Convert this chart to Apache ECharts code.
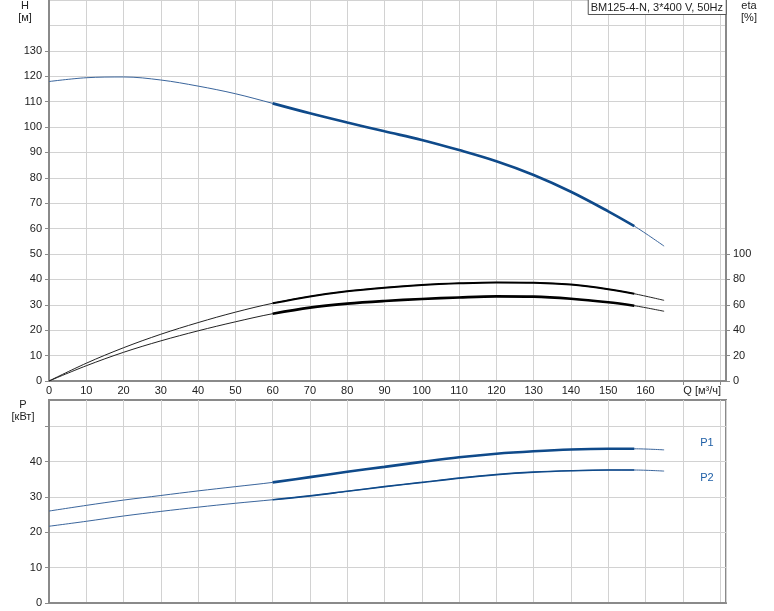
<!DOCTYPE html>
<html>
<head>
<meta charset="utf-8">
<script src="https://cdn.jsdelivr.net/npm/echarts@6/dist/echarts.min.js"></script>
<style>
  html, body { margin: 0; padding: 0; background: #fff; }
  #chart { width: 774px; height: 611px; }
</style>
</head>
<body>
<div id="chart"></div>
<script>
// Q [м³/ч]
const q = [0, 10, 20, 30, 40, 50, 60, 70, 80, 90, 100, 110, 120, 130, 140, 150, 157, 165]
// H [м]
const head = [117.9, 119.4, 119.7, 118.5, 116.1, 113.1, 109.3, 105.4, 101.8, 98.3, 94.9, 90.9, 86.5, 81.1, 74.5, 66.8, 61.0, 53.1]
// eta [%]
const etaUpper = [0, 14.0, 26.2, 36.8, 46.0, 54.2, 61.2, 66.6, 70.7, 73.5, 75.6, 76.9, 77.6, 77.4, 75.9, 72.3, 68.7, 63.5]
const etaLower = [0, 12.0, 22.6, 31.6, 39.5, 46.6, 53.0, 57.8, 60.9, 63.0, 64.6, 65.8, 66.6, 66.4, 64.8, 62.0, 59.3, 54.9]
// P [кВт]
const p1 = [26.0, 27.6, 29.1, 30.4, 31.7, 32.9, 34.1, 35.6, 37.1, 38.5, 39.9, 41.2, 42.2, 42.9, 43.4, 43.6, 43.6, 43.3]
const p2 = [21.7, 23.1, 24.6, 25.9, 27.1, 28.2, 29.2, 30.3, 31.6, 32.9, 34.1, 35.3, 36.3, 37.0, 37.4, 37.6, 37.6, 37.3]

// рабочий диапазон (жирная часть кривых)
const bestFrom = 60
const bestTo = 157

// подписи и риски осей
const qLabels = [0, 10, 20, 30, 40, 50, 60, 70, 80, 90, 100, 110, 120, 130, 140, 150, 160]
const qTicks = [170, 180]
const hLabels = [0, 10, 20, 30, 40, 50, 60, 70, 80, 90, 100, 110, 120, 130]
const etaLabels = [0, 20, 40, 60, 80, 100]
const pLabels = [0, 10, 20, 30, 40]
const pTicks = [0, 10, 20, 30, 40, 50]

const font = 'Arial, "Liberation Sans", sans-serif'
const textColor = '#222'
const axisGray = '#8a8a8a'
const gridGray = '#d2d2d2'
const qMax = 181.6

const pairs = (vals, thick) =>
  q.map((x, i) => [x, vals[i]]).filter(p => !thick || (p[0] >= bestFrom && p[0] <= bestTo))

const line = (name, vals, xi, yi, color, width, thick) => ({
  name: name,
  type: 'line',
  xAxisIndex: xi,
  yAxisIndex: yi,
  data: pairs(vals, thick),
  smooth: 0.35,
  showSymbol: false,
  silent: true,
  lineStyle: { color: color, width: width }
})

// оси только для сетки (customValues у рисок сбивает splitLine)
const gridAxis = (gridIndex, max) => ({
  type: 'value',
  gridIndex: gridIndex,
  min: 0,
  max: max,
  interval: 10,
  axisLine: { show: false },
  axisTick: { show: false },
  axisLabel: { show: false },
  splitLine: { show: true, lineStyle: { color: gridGray, width: 1 } }
})

const labelStyle = (values, margin) => ({
  customValues: values, color: textColor, fontSize: 11, fontFamily: font, margin: margin
})

const chart = echarts.init(document.getElementById('chart'))

chart.setOption({
  animation: false,
  backgroundColor: '#fff',
  title: {
    text: 'BM125-4-N, 3*400 V, 50Hz',
    right: 48,
    top: -1,
    padding: [3, 3, 2, 3],
    borderColor: '#555',
    borderWidth: 1,
    backgroundColor: '#fff',
    textStyle: { color: textColor, fontSize: 11, fontWeight: 'normal', fontFamily: font }
  },
  grid: [
    { left: 49, right: 48, top: 0, height: 381, show: true, borderColor: axisGray, borderWidth: 1 },
    { left: 49, right: 48, top: 400, height: 203, show: true, borderColor: axisGray, borderWidth: 2 }
  ],
  xAxis: [
    {
      type: 'value',
      gridIndex: 0,
      min: 0,
      max: qMax,
      interval: 10,
      axisLine: { show: true, onZero: false, lineStyle: { color: axisGray, width: 2 } },
      axisTick: { show: true, length: 4, customValues: qTicks, lineStyle: { color: axisGray } },
      axisLabel: labelStyle(qLabels, 4),
      splitLine: { show: false }
    },
    {
      type: 'value',
      gridIndex: 1,
      min: 0,
      max: qMax,
      interval: 10,
      axisLine: { show: true, onZero: false, lineStyle: { color: axisGray, width: 2 } },
      axisTick: { show: false },
      axisLabel: { show: false },
      splitLine: { show: true, lineStyle: { color: gridGray, width: 1 } }
    },
    gridAxis(0, qMax)
  ],
  yAxis: [
    {
      type: 'value',
      gridIndex: 0,
      min: 0,
      max: 150,
      interval: 10,
      axisLine: { show: true, onZero: false, lineStyle: { color: axisGray, width: 2 } },
      axisTick: { show: true, length: 4, customValues: hLabels, lineStyle: { color: axisGray } },
      axisLabel: labelStyle(hLabels, 7),
      splitLine: { show: false }
    },
    {
      type: 'value',
      gridIndex: 0,
      position: 'right',
      min: 0,
      max: 300,
      interval: 20,
      axisLine: { show: true, onZero: false, lineStyle: { color: axisGray, width: 2 } },
      axisTick: { show: true, length: 4, customValues: etaLabels, lineStyle: { color: axisGray } },
      axisLabel: labelStyle(etaLabels, 7),
      splitLine: { show: false }
    },
    {
      type: 'value',
      gridIndex: 1,
      min: 0,
      max: 57.4,
      interval: 10,
      axisLine: { show: true, onZero: false, lineStyle: { color: axisGray, width: 2 } },
      axisTick: { show: true, length: 4, customValues: pTicks, lineStyle: { color: axisGray } },
      axisLabel: labelStyle(pLabels, 7),
      splitLine: { show: true, lineStyle: { color: gridGray, width: 1 } }
    },
    gridAxis(0, 150)
  ],
  graphic: [
    { type: 'text', x: 25, y: 0, style: { text: 'H', fill: textColor, font: '11px ' + font, align: 'center' } },
    { type: 'text', x: 25, y: 12, style: { text: '[м]', fill: textColor, font: '11px ' + font, align: 'center' } },
    { type: 'text', x: 749, y: 0, style: { text: 'eta', fill: textColor, font: '11px ' + font, align: 'center' } },
    { type: 'text', x: 749, y: 12, style: { text: '[%]', fill: textColor, font: '11px ' + font, align: 'center' } },
    { type: 'text', x: 23, y: 399, style: { text: 'P', fill: textColor, font: '11px ' + font, align: 'center' } },
    { type: 'text', x: 23, y: 411, style: { text: '[кВт]', fill: textColor, font: '11px ' + font, align: 'center' } },
    { type: 'text', x: 721, y: 385, style: { text: 'Q [м³/ч]', fill: textColor, font: '11px ' + font, align: 'right' } },
    { type: 'text', x: 707, y: 437, style: { text: 'P1', fill: '#1f5fa6', font: '11px ' + font, align: 'center' } },
    { type: 'text', x: 707, y: 472, style: { text: 'P2', fill: '#1f5fa6', font: '11px ' + font, align: 'center' } }
  ],
  series: [
    line('H', head, 0, 0, '#3a659c', 1, false),
    line('H', head, 0, 0, '#0f4a8a', 2.6, true),
    line('eta', etaUpper, 0, 1, '#222', 1, false),
    line('eta', etaUpper, 0, 1, '#000', 2, true),
    line('eta', etaLower, 0, 1, '#222', 1, false),
    line('eta', etaLower, 0, 1, '#000', 2.6, true),
    line('P1', p1, 1, 2, '#3a659c', 1, false),
    line('P1', p1, 1, 2, '#0f4a8a', 2.6, true),
    line('P2', p2, 1, 2, '#3a659c', 1, false),
    line('P2', p2, 1, 2, '#0f4a8a', 1.6, true)
  ]
})
</script>
</body>
</html>
